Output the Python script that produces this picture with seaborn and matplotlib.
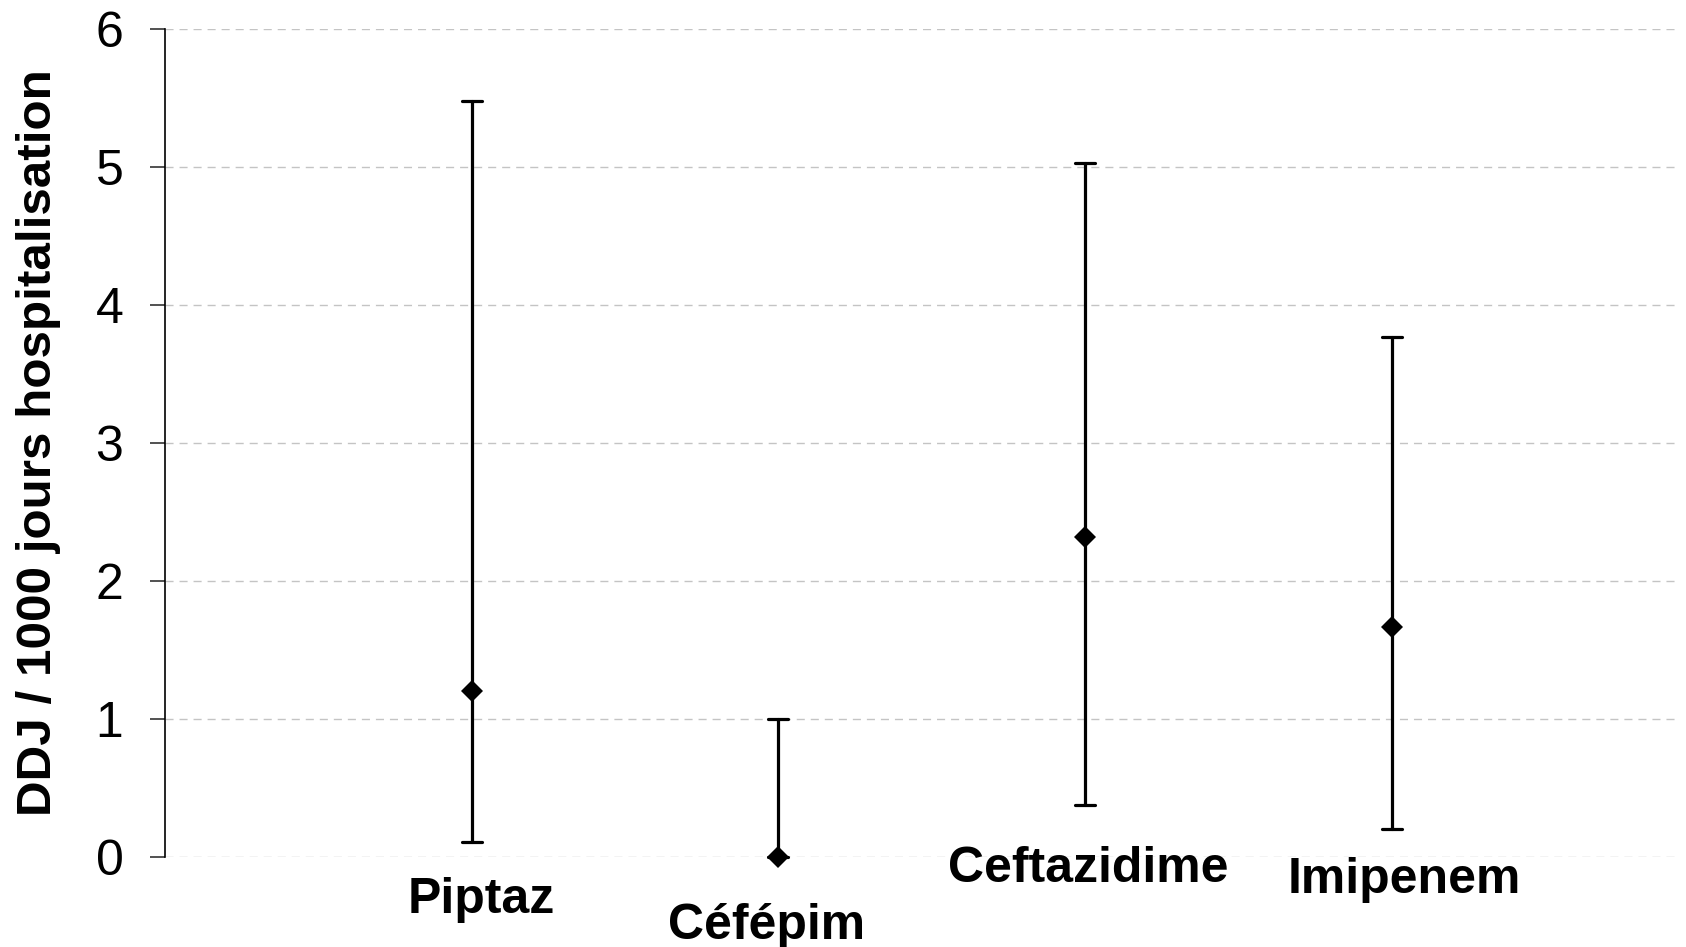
import matplotlib
matplotlib.use("Agg")
import matplotlib.pyplot as plt
import seaborn as sns
import pandas as pd

# ---- data ----
categories = ["Piptaz", "Céfépim", "Ceftazidime", "Imipenem"]
means = [1.20, 0.00, 2.32, 1.67]
lowers = [0.11, 0.00, 0.38, 0.20]
uppers = [5.48, 1.00, 5.03, 3.77]
y_ticks = [0, 1, 2, 3, 4, 5, 6]
y_label = "DDJ / 1000 jours hospitalisation"

# long table: lower / mean / upper per category -> median = mean, full range = interval
rows = []
for c, lo, m, up in zip(categories, lowers, means, uppers):
    for v in (lo, m, up):
        rows.append({"cat": c, "val": v})
df = pd.DataFrame(rows)

sns.set_theme(style="white")
plt.rcParams["font.family"] = ["Liberation Sans", "DejaVu Sans"]

fig = plt.figure(figsize=(16.86, 9.47), dpi=100)
ax = fig.add_axes([0.0979, 0.095, 0.8985, 0.8744])

sns.pointplot(data=df, x="cat", y="val", order=categories,
              estimator="median", errorbar=("pi", 100),
              linestyle="none", markers="D", color="black",
              capsize=0.065, err_kws={"linewidth": 2.3},
              markersize=11, markeredgewidth=0, ax=ax)

for ln in ax.lines:
    ln.set_clip_on(False)
for col in ax.collections:
    col.set_clip_on(False)

ax.set_ylim(0, 6)
ax.set_xlim(-1, 3.94)
ax.set_yticks(y_ticks)
ax.set_yticklabels([str(t) for t in y_ticks], fontsize=36, color="black")
ax.tick_params(axis="y", which="major", direction="out", length=11, width=1.2,
               color="#333333", pad=19, left=True)
ax.set_xticks([])
ax.set_xlabel("")
ax.set_ylabel(y_label, fontsize=35.6, fontweight="bold", color="black")
ax.yaxis.set_label_coords(-0.0686, 0.5)

ax.grid(False)
for t in y_ticks:
    ax.axhline(t, color="#c4c4c4", linewidth=1.0, linestyle=(0, (5.8, 4.3)), zorder=0)

for s in ["top", "right", "bottom"]:
    ax.spines[s].set_visible(False)
ax.spines["left"].set_color("black")
ax.spines["left"].set_linewidth(1.2)

# category labels (placed like the original data labels)
label_y = [-0.31, -0.50, -0.09, -0.17]
label_dx = [0.03, -0.04, 0.01, 0.04]
for i, (c, yy, dx) in enumerate(zip(categories, label_y, label_dx)):
    ax.text(i + dx, yy, c, ha="center", va="center", fontsize=36,
            fontweight="bold", color="black", clip_on=False)

fig.savefig("out.png", dpi=100)
